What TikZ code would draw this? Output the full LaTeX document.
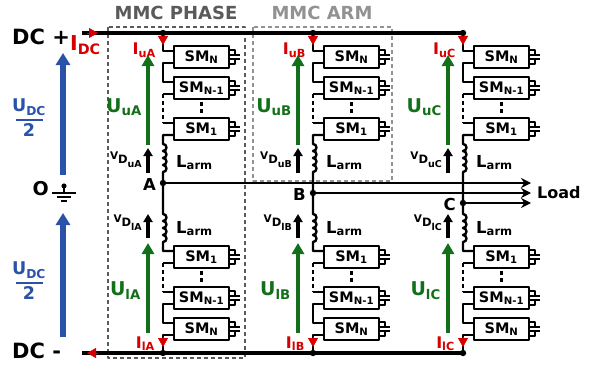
\documentclass[tikz,border=0pt]{standalone}
\usepackage{fontspec}
\setmainfont{DejaVu Sans}
\usepackage{xcolor}
\usetikzlibrary{arrows.meta,positioning}

\definecolor{curred}{HTML}{D60000}
\definecolor{volgreen}{HTML}{12701A}
\definecolor{dcblue}{HTML}{2A52A8}
\definecolor{phgray}{HTML}{5A5A5A}
\definecolor{armgray}{HTML}{929292}
\newcommand{\sz}[1]{\fontsize{#1}{#1}\selectfont\bfseries}

\begin{document}
\begin{tikzpicture}[x=1pt,y=-1pt,line join=round,inner sep=0pt,
  wire/.style={line width=2.4pt},
  rail/.style={line width=3.6pt},
  smbox/.style={draw,fill=white,line width=2.2pt,outer sep=0pt,minimum width=55pt,minimum height=22pt,font=\sz{14.5}},
  capline/.style={line width=1.8pt},
  armdash/.style={wire,dash pattern=on 4pt off 3pt},
  curtip/.style={curred,line width=0.4pt,-{Triangle[width=10pt,length=9pt]}},
  curlbl/.style={text=curred,font=\sz{16}},
  vollbl/.style={text=volgreen,font=\sz{19}},
  volarrow/.style={volgreen,line width=4.2pt,-{Triangle[width=12pt,length=11pt]}},
  vdarrow/.style={line width=3.2pt,-{Triangle[width=9pt,length=8pt]}},
  dcarrow/.style={dcblue,line width=5.5pt,-{Triangle[width=14pt,length=12pt]}},
  boxdash/.style={line width=2pt,dash pattern=on 4pt off 3pt}]

\useasboundingbox (0,0) rectangle (591,369);

% frames of one phase and one arm
\draw[boxdash,phgray] (108,27) rectangle (245,358);
\draw[boxdash,armgray] (253,27) rectangle (392,181);
\node[text=phgray,font=\sz{18}] (phase) at (176,13) {MMC PHASE};
\node[text=armgray,font=\sz{18}] (arm) at (322,13) {MMC ARM};

% the three phases
\foreach \X/\n/\Y in {163/A/183,313/B/193,463/C/203}{
  \coordinate (top\n) at (\X,33);
  \coordinate (bot\n) at (\X,353);
  \coordinate (\n) at (\X,\Y);
  \node[smbox] (uN\n) at (\X+38.5,57) {SM\textsubscript{N}};
  \node[smbox] (uM\n) at (\X+38.5,88) {SM\textsubscript{N-1}};
  \node[smbox] (u1\n) at (\X+38.5,129) {SM\textsubscript{1}};
  \node[smbox] (l1\n) at (\X+38.5,257) {SM\textsubscript{1}};
  \node[smbox] (lM\n) at (\X+38.5,298) {SM\textsubscript{N-1}};
  \node[smbox] (lN\n) at (\X+38.5,329) {SM\textsubscript{N}};

  % upper arm
  \draw[wire] (top\n) |- ([yshift=-5pt]uN\n.north west);
  \draw[wire] ([yshift=5pt]uN\n.south west) -- ++(-11,0) |- ([yshift=-5pt]uM\n.north west);
  \draw[wire] ([yshift=5pt]uM\n.south west) -- ++(-11,0) coordinate (du\n);
  \draw[wire] ([yshift=-5pt]u1\n.north west) -- ++(-11,0) coordinate (dd\n);
  \draw[armdash] (du\n) -- (dd\n);
  \draw[wire] ([yshift=5pt]u1\n.south west) -- ++(-11,0) -- (\X,144)
    \foreach \k in {1,...,4}{arc[start angle=90,end angle=-90,radius=3.5pt]} -- (\n);

  % lower arm
  \draw[wire] (\n) -- (\X,214)
    \foreach \k in {1,...,4}{arc[start angle=90,end angle=-90,radius=3.5pt]}
    |- ([yshift=-5pt]l1\n.north west);
  \draw[wire] ([yshift=5pt]l1\n.south west) -- ++(-11,0) coordinate (dl\n);
  \draw[wire] ([yshift=-5pt]lM\n.north west) -- ++(-11,0) coordinate (dm\n);
  \draw[armdash] (dl\n) -- (dm\n);
  \draw[wire] ([yshift=5pt]lM\n.south west) -- ++(-11,0) |- ([yshift=-5pt]lN\n.north west);
  \draw[wire] ([yshift=5pt]lN\n.south west) -- ++(-11,0) -- (bot\n);

  % dots between modules
  \draw[armdash] (uM\n.south) ++(0,3) -- ([yshift=3pt]u1\n.north);
  \draw[armdash] (l1\n.south) ++(0,3) -- ([yshift=3pt]lM\n.north);

  % capacitors
  \foreach \b in {uN,uM,u1,l1,lM,lN}
    \draw[capline] ([yshift=7pt]\b\n.east) -- ++(6,0) -- ++(0,5) ++(-5,0) -- ++(10,0)
      ++(0,4) -- ++(-10,0) ++(5,0) -- ++(0,5) -- ++(-6,0);

  % currents and voltages
  \draw[curtip] (\X,35) -- (\X,45);
  \draw[curtip] (\X,337) -- (\X,347);
  \node[curlbl,anchor=base east] (Iu\n) at (\X-7,55) {I\textsubscript{u\n}};
  \node[curlbl,anchor=base east] (Il\n) at (\X-8,348) {I\textsubscript{l\n}};
  \draw[volarrow] (\X-15,145) -- (\X-15,55);
  \draw[volarrow] (\X-15,333) -- (\X-15,243);
  \node[vollbl,anchor=base east] (Uu\n) at (\X-21,112) {U\textsubscript{u\n}};
  \node[vollbl,anchor=base east] (Ul\n) at (\X-22,295) {U\textsubscript{l\n}};
  \draw[vdarrow] (\X-15,173) -- (\X-15,148);
  \draw[vdarrow] (\X-15,238) -- (\X-15,214);
  \node[anchor=north east,font=\sz{10.5}] (vu\n) at (\X-21,152) {V\raisebox{-4pt}{\sz{11.5}D\raisebox{-4pt}{\sz{9.5}u\n}}};
  \node[anchor=north east,font=\sz{10.5}] (vl\n) at (\X-21,215) {V\raisebox{-4pt}{\sz{11.5}D\raisebox{-4pt}{\sz{9.5}l\n}}};
  \node[anchor=base west,font=\sz{16.5}] (Lu\n) at (\X+13,167) {L\textsubscript{arm}};
  \node[anchor=base west,font=\sz{16.5}] (Ll\n) at (\X+13,233) {L\textsubscript{arm}};
  \node[anchor=base east,font=\sz{16.5}] (nl\n) at (\X-7,\Y+7) {\n};
  \fill (top\n) circle (3.2pt) (bot\n) circle (3.2pt) (\n) circle (3.2pt);
}

% load side
\coordinate (ld) at (531,193);
\node[anchor=west,font=\sz{16}] (load) at (537,193) {Load};
\foreach \n in {A,B,C}
  \draw[line width=2.6pt,-{Stealth[length=10pt,width=10pt]}] (\n) -- (\n -| ld);

% dc side
\coordinate (dcp) at (82,33);
\coordinate (dcm) at (82,353);
\draw[rail] (dcp) -- (topC);
\draw[rail] (dcm) -- (botC);
\draw[curtip] (87,33) -- (98,33);
\draw[curtip] (98,353) -- (87,353);
\node[anchor=base west,font=\sz{21}] (dcplus) at (12,45) {DC +};
\node[curlbl,font=\sz{20.5},anchor=base west] (idc) at (70,51) {I\textsubscript{DC}};
\node[anchor=base west,font=\sz{21}] (dcminus) at (12,358) {DC -};
\draw[dcarrow] (63,175) -- (63,53);
\draw[dcarrow] (63,337) -- (63,213);
\node[text=dcblue,font=\sz{17.5},align=center] (half1) at (29,118) {U\textsubscript{DC}\\[-5pt]\rule[3pt]{27pt}{2pt}\\[-5pt]2};
\node[text=dcblue,font=\sz{17.5},align=center] (half2) at (29,281) {U\textsubscript{DC}\\[-5pt]\rule[3pt]{27pt}{2pt}\\[-5pt]2};

% midpoint and ground
\coordinate (O) at (64,186);
\node[anchor=base east,font=\sz{19}] (olbl) at (49,195) {O};
\fill (O) circle (2.6pt);
\draw[line width=1.7pt] (O) -- ++(0,7) ++(-12,0) -- ++(24,0) ++(-19,4) -- ++(14,0) ++(-10,4) -- ++(6,0);
\end{tikzpicture}
\end{document}
